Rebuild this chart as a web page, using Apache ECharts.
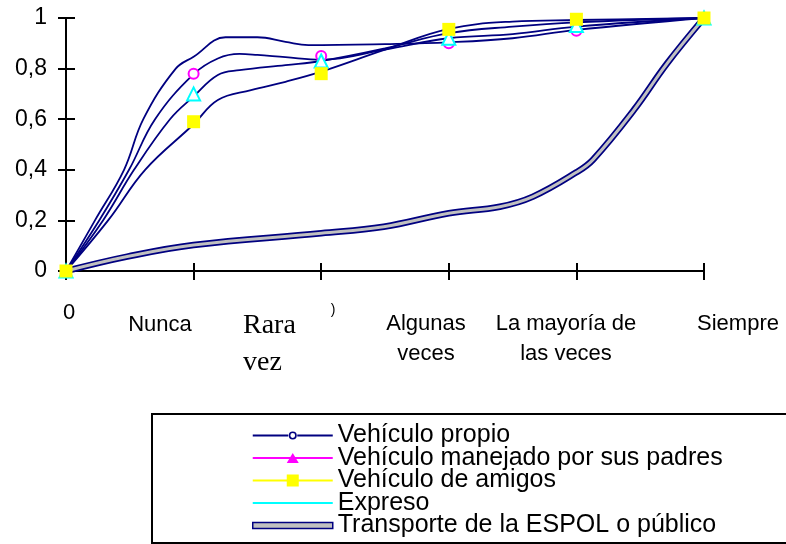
<!DOCTYPE html>
<html>
<head>
<meta charset="utf-8">
<script src="https://cdn.jsdelivr.net/npm/echarts@6/dist/echarts.min.js"></script>
<style>
  html, body { margin: 0; padding: 0; background: #fff; }
  #chart { width: 786px; height: 544px; }
</style>
</head>
<body>
<div id="chart"></div>
<script>
// categories on the x axis (index 0..5)
const categories = ['0', 'Nunca', 'Rara\nvez', 'Algunas\nveces', 'La mayoría de\nlas veces', 'Siempre'];
const seriesNames = [
    'Vehículo propio',
    'Vehículo manejado por sus padres',
    'Vehículo de amigos',
    'Expreso',
    'Transporte de la ESPOL o público'
];

// markers, one value per category
const circleVals = [0, 0.78, 0.85, 0.90, 0.95, 1];
const triangleVals = [0, 0.70, 0.83, 0.92, 0.97, 1];
const squareVals = [0, 0.59, 0.78, 0.955, 0.995, 1];

// the navy curves, [x index, value]
const propioLine = [[0, 0], [0.227, 0.2], [0.455, 0.4], [0.606, 0.6], [0.86, 0.8], [1, 0.847], [1.25, 0.924], [1.5, 0.924], [1.72, 0.906], [1.9, 0.893], [2.5, 0.897], [3, 0.904], [3.5, 0.92], [4, 0.953], [5, 1]];
const padresLine = [[0, 0], [0.26, 0.2], [0.494, 0.4], [0.698, 0.6], [1, 0.778], [1.19, 0.84], [1.36, 0.858], [1.5, 0.854], [1.72, 0.845], [2, 0.835], [2.5, 0.875], [3, 0.92], [3.5, 0.936], [4, 0.966], [5, 1]];
const expresoLine = [[0, 0], [0.29, 0.2], [0.533, 0.4], [0.815, 0.6], [1, 0.69], [1.19, 0.775], [1.36, 0.794], [1.72, 0.814], [2, 0.83], [2.5, 0.88], [3, 0.94], [3.5, 0.966], [4, 0.983], [5, 1]];
const amigosLine = [[0, 0], [0.33, 0.2], [0.62, 0.4], [1, 0.58], [1.19, 0.676], [1.45, 0.715], [1.72, 0.748], [2, 0.788], [2.5, 0.875], [3, 0.957], [3.5, 0.986], [4, 0.992], [5, 1]];
const transporteLine = [[0, 0], [0.48, 0.057], [1, 0.103], [2, 0.149], [2.49, 0.175], [3, 0.228], [3.4, 0.254], [3.66, 0.294], [4, 0.39], [4.13, 0.44], [4.45, 0.636], [4.71, 0.82], [5, 1]];

const NAVY = '#000080';
const FONT = "'Liberation Sans', Arial, sans-serif";

const chart = echarts.init(document.getElementById('chart'));

// x labels sit at odd offsets in the original, so they are placed by hand
const labelStyle = [
    { x: 69, y: 302, align: 'center', font: '22px ' + FONT, lh: 22 },
    { x: 160, y: 314, align: 'center', font: '22px ' + FONT, lh: 22 },
    { x: 243, y: 307, align: 'left', font: "28px 'Liberation Serif', 'Times New Roman', serif", lh: 37 },
    { x: 426, y: 309, align: 'center', font: '22px ' + FONT, lh: 30 },
    { x: 566, y: 309, align: 'center', font: '22px ' + FONT, lh: 30 },
    { x: 738, y: 309, align: 'center', font: '22px ' + FONT, lh: 30 }
];
const xLabels = categories.map((c, i) => ({
    type: 'text',
    style: {
        text: c,
        x: labelStyle[i].x,
        y: labelStyle[i].y,
        align: labelStyle[i].align,
        verticalAlign: 'top',
        font: labelStyle[i].font,
        lineHeight: labelStyle[i].lh,
        fill: '#000'
    }
}));

const lineSeries = (name, data) => ({
    name: name,
    type: 'line',
    data: data,
    smooth: 0.4,
    showSymbol: false,
    symbol: 'none',
    lineStyle: { color: NAVY, width: 1.8 },
    itemStyle: { color: NAVY },
    z: 2
});
const markSeries = (name, vals, symbol, size, color, z) => ({
    name: name,
    type: 'scatter',
    data: vals.map((v, i) => [i, v]),
    symbol: symbol,
    symbolSize: size,
    itemStyle: { color: color, borderWidth: symbol.indexOf('empty') === 0 ? 1.6 : 0, opacity: 1 },
    z: z
});

const option = {
    animation: false,
    backgroundColor: '#fff',
    grid: { left: 66, right: 82, top: 18, bottom: 273, outerBoundsMode: 'none' },
    xAxis: [
        {
            type: 'value', min: 0, max: 5, interval: 1, position: 'bottom',
            axisLine: { lineStyle: { color: '#000', width: 2 } },
            axisTick: { inside: false, length: 9, lineStyle: { color: '#000', width: 2 } },
            axisLabel: { show: false },
            splitLine: { show: false }
        },
        {
            type: 'value', min: 0, max: 5, interval: 1, position: 'bottom',
            axisLine: { show: false },
            axisTick: { inside: true, length: 8, lineStyle: { color: '#000', width: 2 } },
            axisLabel: { show: false },
            splitLine: { show: false }
        }
    ],
    yAxis: [
        {
            type: 'value', min: 0, max: 1, interval: 0.2, position: 'left',
            axisLine: { show: true, lineStyle: { color: '#000', width: 2 } },
            axisTick: { show: true, inside: false, length: 8, lineStyle: { color: '#000', width: 2 } },
            axisLabel: {
                margin: 19,
                color: '#000',
                fontFamily: FONT,
                fontSize: 23,
                padding: [8, 0, 0, 0],
                formatter: v => String(Math.round(v * 10) / 10).replace('.', ',')
            },
            splitLine: { show: false }
        },
        {
            type: 'value', min: 0, max: 1, interval: 0.2, position: 'left',
            axisLine: { show: false },
            axisTick: { show: true, inside: true, length: 9, lineStyle: { color: '#000', width: 2 } },
            axisLabel: { show: false },
            splitLine: { show: false }
        }
    ],
    legend: {
        orient: 'vertical',
        left: 252,
        top: 423,
        height: 200,
        padding: 0,
        itemGap: -2.5,
        itemWidth: 80,
        itemHeight: 14,
        selectedMode: false,
        textStyle: { fontFamily: FONT, fontSize: 25, color: '#000' },
        data: [
            {
                name: seriesNames[0],
                icon: 'path://M0,6H35.5V8H0Z M44.5,6H80V8H44.5Z M36,7A4,4 0 1,0 44,7A4,4 0 1,0 36,7Z M37.6,7A2.4,2.4 0 1,1 42.4,7A2.4,2.4 0 1,1 37.6,7Z',
                itemStyle: { color: NAVY, borderWidth: 0 }
            },
            {
                name: seriesNames[1],
                icon: 'path://M0,6H80V8H0Z M34,12L40,2L46,12Z',
                itemStyle: { color: '#ff00ff', borderWidth: 0 }
            },
            {
                name: seriesNames[2],
                icon: 'path://M0,6H80V8H0Z M34,1H46V13H34Z',
                itemStyle: { color: '#ffff00', borderWidth: 0 }
            },
            {
                name: seriesNames[3],
                icon: 'path://M0,6H80V8H0Z',
                itemStyle: { color: '#00ffff', borderWidth: 0 }
            },
            {
                name: seriesNames[4],
                icon: 'path://M0,4H80V10H0Z',
                itemStyle: { color: '#c0c0c0', borderColor: NAVY, borderWidth: 1.5 }
            }
        ]
    },
    graphic: [
        {
            type: 'rect',
            shape: { x: 152, y: 414, width: 700, height: 129 },
            style: { fill: 'none', stroke: '#000', lineWidth: 2 },
            z: 0
        },
        {
            type: 'text',
            style: { text: ')', x: 333, y: 310, align: 'center', verticalAlign: 'middle', font: '14px ' + FONT, fill: '#000' }
        }
    ].concat(xLabels),
    series: [
        lineSeries(seriesNames[0], propioLine),
        lineSeries(seriesNames[1], padresLine),
        lineSeries(seriesNames[3], expresoLine),
        lineSeries(seriesNames[2], amigosLine),
        {
            name: seriesNames[4],
            type: 'line',
            data: transporteLine,
            smooth: 0.4,
            showSymbol: false,
            symbol: 'none',
            lineStyle: { color: NAVY, width: 6.5 },
            z: 3
        },
        {
            name: seriesNames[4],
            type: 'line',
            data: transporteLine,
            smooth: 0.4,
            showSymbol: false,
            symbol: 'none',
            lineStyle: { color: '#c0c0c0', width: 3 },
            z: 4
        },
        markSeries(seriesNames[1], circleVals, 'emptyCircle', 10, '#ff00ff', 5),
        markSeries(seriesNames[3], triangleVals, 'emptyTriangle', 13, '#00ffff', 6),
        markSeries(seriesNames[2], squareVals, 'rect', 13, '#ffff00', 7)
    ]
};

chart.setOption(option);
</script>
</body>
</html>
